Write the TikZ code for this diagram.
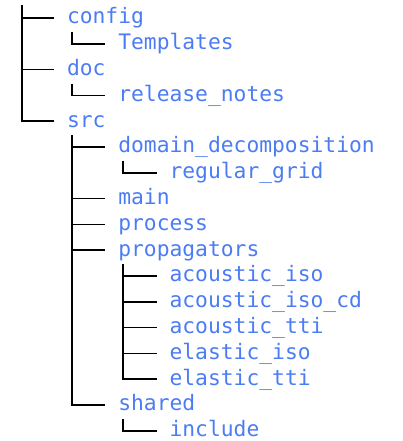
\documentclass[tikz,border=0pt]{standalone}
\usepackage{fontspec}
\setmonofont{DejaVu Sans Mono}
\usetikzlibrary{positioning}
\definecolor{DirBlue}{HTML}{4C7CF4}

\begin{document}
\begin{tikzpicture}[
        x=1pt, y=-1pt,
        font=\ttfamily\fontsize{21.3}{26}\selectfont,
        dir/.style={
          text=DirBlue,
          inner sep=0pt,
          outer sep=0pt,
          text height=16pt,
          text depth=4.4pt,
          anchor=west
        },
        branch/.style={draw=black, line width=1.7pt}
      ]
        \useasboundingbox (0,0) rectangle (403,441);
        \coordinate (root) at (22,5);

        \node[dir] (config) at (67,18) {config};
        \node[dir, below right=5.4pt and 51.3pt of config.south west] (templates) {Templates};
        \node[dir, below right=5.4pt and -51.3pt of templates.south west] (doc) {doc};
        \node[dir, below right=5.4pt and 51.3pt of doc.south west] (notes) {release\_notes};
        \node[dir, below right=5.4pt and -51.3pt of notes.south west] (src) {src};
        \node[dir, below right=5.4pt and 51.3pt of src.south west] (domain) {domain\_decomposition};
        \node[dir, below right=5.4pt and 51.3pt of domain.south west] (grid) {regular\_grid};
        \node[dir, below right=5.4pt and -51.3pt of grid.south west] (main) {main};
        \node[dir, below right=5.4pt and 0pt of main.south west] (process) {process};
        \node[dir, below right=5.4pt and 0pt of process.south west] (prop) {propagators};
        \node[dir, below right=5.4pt and 51.3pt of prop.south west] (aciso) {acoustic\_iso};
        \node[dir, below right=5.4pt and 0pt of aciso.south west] (acisocd) {acoustic\_iso\_cd};
        \node[dir, below right=5.4pt and 0pt of acisocd.south west] (actti) {acoustic\_tti};
        \node[dir, below right=5.4pt and 0pt of actti.south west] (eliso) {elastic\_iso};
        \node[dir, below right=5.4pt and 0pt of eliso.south west] (eltti) {elastic\_tti};
        \node[dir, below right=5.4pt and -51.3pt of eltti.south west] (shared) {shared};
        \node[dir, below right=5.4pt and 51.3pt of shared.south west] (include) {include};

        % top level
        \draw[branch] (root) |- ([xshift=-13pt]config.west);
        \draw[branch] (root) |- ([xshift=-13pt]doc.west);
        \draw[branch] (root) |- ([xshift=-13pt]src.west);
        % subfolders
        \draw[branch] ([xshift=5pt,yshift=-14pt]config.west) |- ([xshift=-13pt]templates.west);
        \draw[branch] ([xshift=5pt,yshift=-14pt]doc.west) |- ([xshift=-13pt]notes.west);
        \draw[branch] ([xshift=5pt,yshift=-14pt]src.west) |- ([xshift=-13pt]domain.west);
        \draw[branch] ([xshift=5pt,yshift=-14pt]src.west) |- ([xshift=-13pt]main.west);
        \draw[branch] ([xshift=5pt,yshift=-14pt]src.west) |- ([xshift=-13pt]process.west);
        \draw[branch] ([xshift=5pt,yshift=-14pt]src.west) |- ([xshift=-13pt]prop.west);
        \draw[branch] ([xshift=5pt,yshift=-14pt]src.west) |- ([xshift=-13pt]shared.west);
        \draw[branch] ([xshift=5pt,yshift=-14pt]domain.west) |- ([xshift=-13pt]grid.west);
        \draw[branch] ([xshift=5pt,yshift=-14pt]prop.west) |- ([xshift=-13pt]aciso.west);
        \draw[branch] ([xshift=5pt,yshift=-14pt]prop.west) |- ([xshift=-13pt]acisocd.west);
        \draw[branch] ([xshift=5pt,yshift=-14pt]prop.west) |- ([xshift=-13pt]actti.west);
        \draw[branch] ([xshift=5pt,yshift=-14pt]prop.west) |- ([xshift=-13pt]eliso.west);
        \draw[branch] ([xshift=5pt,yshift=-14pt]prop.west) |- ([xshift=-13pt]eltti.west);
        \draw[branch] ([xshift=5pt,yshift=-14pt]shared.west) |- ([xshift=-13pt]include.west);
      \end{tikzpicture}
\end{document}
